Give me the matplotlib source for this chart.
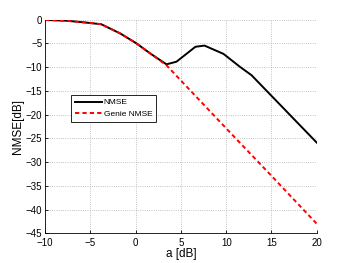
import numpy as np
import matplotlib
matplotlib.use("Agg")
import matplotlib.pyplot as plt

# data
a_nmse = [-10, -7.7, -5.5, -3.8, -1.7, 0.1, 1.6, 3.4, 4.5, 6.6, 7.6, 9.7, 11.5, 12.8, 20]
nmse = [-0.05, -0.2, -0.6, -0.95, -2.9, -5.0, -7.1, -9.4, -8.85, -5.7, -5.45, -7.2, -9.9, -11.7, -25.9]

a_genie = [-10, -7.7, -5.5, -3.8, -1.7, 0.1, 1.6, 3.4, 10, 15, 20]
genie = [-0.05, -0.2, -0.6, -0.95, -2.9, -5.0, -7.1, -9.6, -22.9, -32.9, -43]

xticks = [-10, -5, 0, 5, 10, 15, 20]
yticks = [0, -5, -10, -15, -20, -25, -30, -35, -40, -45]

plt.rcParams['font.family'] = ['Liberation Sans', 'DejaVu Sans']

fig = plt.figure(figsize=(3.5, 2.63), dpi=100)
ax = fig.add_axes([0.129, 0.113, 0.776, 0.812])

ax.plot(a_nmse, nmse, color='black', lw=1.4, label='NMSE')
ax.plot(a_genie, genie, color='red', lw=1.4, ls=(0, (2.2, 1.6)), label='Genie NMSE')

ax.set_xlim(-10, 20)
ax.set_ylim(-45, 0)
ax.set_xticks(xticks)
ax.set_yticks(yticks)
ax.tick_params(direction='in', labelsize=7, length=2.5, width=0.6)
ax.tick_params(axis='x', pad=3.5)
ax.tick_params(axis='y', pad=2)
ax.grid(True, ls=':', color='#b0b0b0', lw=0.6)
for s in ['top', 'right']:
    ax.spines[s].set_visible(False)
for s in ['left', 'bottom']:
    ax.spines[s].set_linewidth(0.6)

ax.set_xlabel('a [dB]', fontsize=8.5, labelpad=0)
ax.set_ylabel('NMSE[dB]', fontsize=8.5, labelpad=1)

leg = ax.legend(loc='lower left', bbox_to_anchor=(0.095, 0.522), fontsize=6,
                frameon=True, fancybox=False, edgecolor='black', framealpha=1,
                handlelength=3.3, handletextpad=0.2, borderpad=0.45, labelspacing=0.45,
                borderaxespad=0)
leg.get_frame().set_linewidth(0.6)

fig.savefig('out.png', dpi=100)
